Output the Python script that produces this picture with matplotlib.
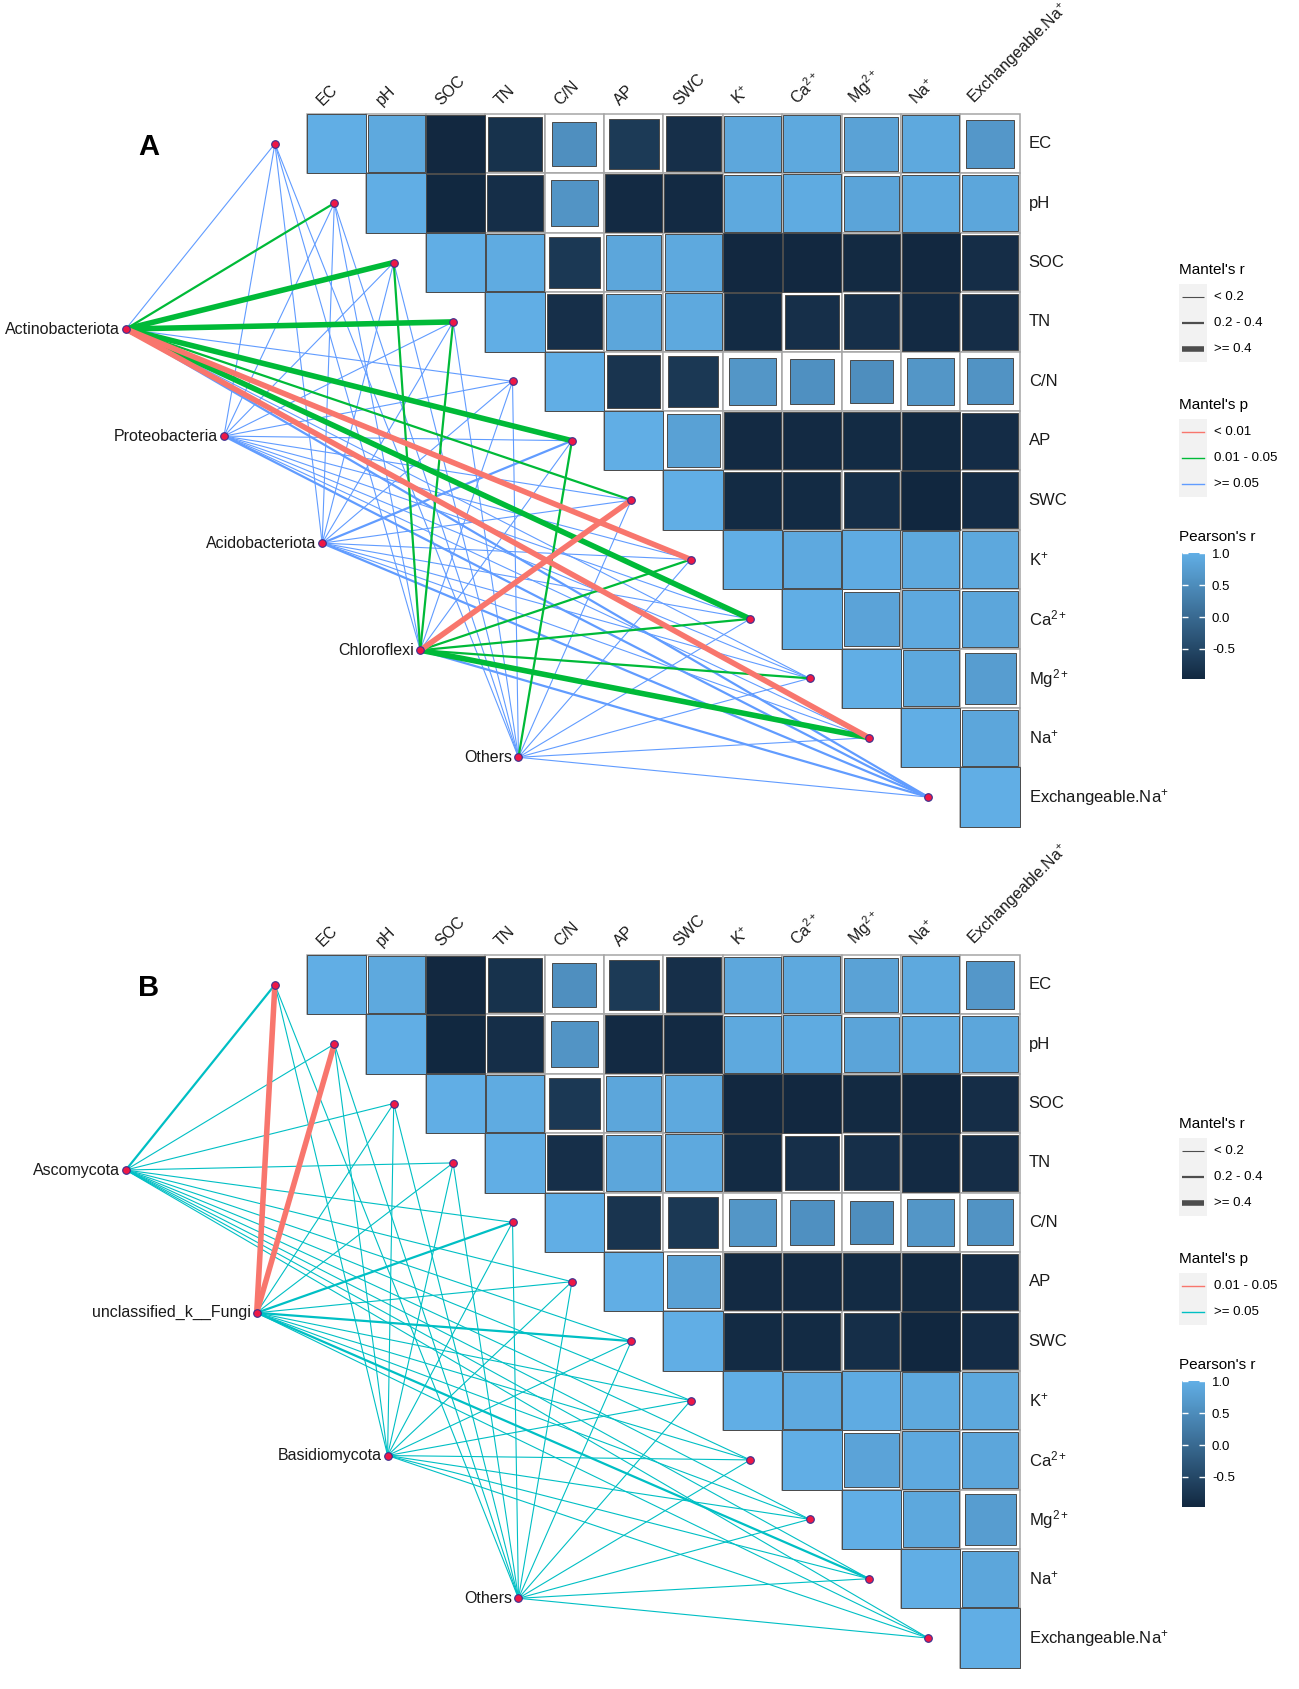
import numpy as np
import matplotlib
matplotlib.use('Agg')
import matplotlib.pyplot as plt
from matplotlib.patches import Rectangle
from matplotlib.colors import LinearSegmentedColormap, Normalize
from matplotlib.cm import ScalarMappable

plt.rcParams['font.family'] = ['Liberation Sans', 'DejaVu Sans']
plt.rcParams['mathtext.fontset'] = 'custom'
plt.rcParams['mathtext.rm'] = 'Liberation Sans'
plt.rcParams['mathtext.it'] = 'Liberation Sans:italic'
plt.rcParams['mathtext.bf'] = 'Liberation Sans:bold'

# environmental variables (heatmap rows / columns)
env_labels = ['EC', 'pH', 'SOC', 'TN', 'C/N', 'AP', 'SWC', 'K$^{+}$', 'Ca$^{2+}$',
              'Mg$^{2+}$', 'Na$^{+}$', 'Exchangeable.Na$^{+}$']

# Pearson's r, upper triangle (row i holds columns i..11)
corr_rows = [
    [1.00, 0.92, -0.96, -0.82, 0.55, -0.70, -0.86, 0.89, 0.92, 0.82, 0.92, 0.66],
    [1.00, -0.97, -0.87, 0.62, -0.93, -0.93, 0.92, 0.95, 0.86, 0.92, 0.87],
    [1.00, 0.95, -0.72, 0.87, 0.92, -0.96, -0.96, -0.94, -0.96, -0.88],
    [1.00, -0.86, 0.87, 0.92, -0.92, -0.85, -0.86, -0.93, -0.88],
    [1.00, -0.78, -0.73, 0.64, 0.56, 0.53, 0.64, 0.60],
    [1.00, 0.80, -0.93, -0.93, -0.92, -0.95, -0.90],
    [1.00, -0.92, -0.92, -0.87, -0.98, -0.90],
    [1.00, 0.93, 0.96, 0.92, 0.90],
    [1.00, 0.84, 0.93, 0.88],
    [1.00, 0.90, 0.74],
    [1.00, 0.88],
    [1.00],
]

# Mantel test, panel A (bacteria)
# p class: 0 = < 0.01, 1 = 0.01 - 0.05, 2 = >= 0.05
# r class: 0 = < 0.2, 1 = 0.2 - 0.4, 2 = >= 0.4
species_A = ['Actinobacteriota', 'Proteobacteria', 'Acidobacteriota', 'Chloroflexi', 'Others']
mantel_p_A = [
    [2, 1, 1, 1, 2, 1, 1, 0, 1, 2, 0, 2],
    [2, 2, 2, 2, 2, 2, 2, 2, 2, 2, 2, 2],
    [2, 2, 2, 2, 2, 2, 2, 2, 2, 2, 2, 2],
    [2, 2, 1, 1, 2, 2, 0, 1, 1, 1, 1, 2],
    [2, 2, 2, 2, 2, 1, 2, 2, 2, 2, 2, 2],
]
mantel_r_A = [
    [0, 1, 2, 2, 0, 2, 1, 2, 2, 0, 2, 1],
    [0, 0, 0, 0, 0, 0, 0, 0, 0, 0, 0, 1],
    [0, 0, 0, 0, 0, 1, 0, 0, 0, 0, 0, 1],
    [0, 0, 1, 1, 0, 0, 2, 1, 1, 1, 2, 1],
    [0, 0, 0, 0, 0, 1, 0, 0, 0, 0, 0, 0],
]
p_labels_A = ['< 0.01', '0.01 - 0.05', '>= 0.05']
p_colors_A = ['#F8766D', '#00BA38', '#619CFF']

# Mantel test, panel B (fungi); p class: 0 = 0.01 - 0.05, 1 = >= 0.05
species_B = ['Ascomycota', 'unclassified_k__Fungi', 'Basidiomycota', 'Others']
mantel_p_B = [
    [1, 1, 1, 1, 1, 1, 1, 1, 1, 1, 1, 1],
    [0, 0, 1, 1, 1, 1, 1, 1, 1, 1, 1, 1],
    [1, 1, 1, 1, 1, 1, 1, 1, 1, 1, 1, 1],
    [1, 1, 1, 1, 1, 1, 1, 1, 1, 1, 1, 1],
]
mantel_r_B = [
    [1, 0, 0, 0, 0, 0, 0, 0, 0, 0, 0, 0],
    [2, 2, 0, 0, 1, 0, 1, 0, 0, 0, 1, 0],
    [0, 0, 0, 0, 0, 0, 0, 0, 0, 0, 0, 0],
    [0, 0, 0, 0, 0, 0, 0, 0, 0, 0, 0, 0],
]
p_labels_B = ['0.01 - 0.05', '>= 0.05']
p_colors_B = ['#F8766D', '#00BFC4']

r_labels = ['< 0.2', '0.2 - 0.4', '>= 0.4']
r_widths = [0.8, 1.6, 4.0]

n = len(env_labels)
corr = np.full((n, n), np.nan)
for i, row in enumerate(corr_rows):
    corr[i, i:] = row

cmap = LinearSegmentedColormap.from_list('gg', ['#11273F', '#61AEE5'])
norm = Normalize(np.nanmin(corr), 1.0)

W, H = 1299, 1689
CELL = 59.4
fig = plt.figure(figsize=(W / 100, H / 100), dpi=100)


def panel_axes(top_px, bottom_px, origin_x, origin_y):
    ax = fig.add_axes([0, 1 - bottom_px / H, 1, (bottom_px - top_px) / H])
    ax.set_xlim(-origin_x / CELL, (W - origin_x) / CELL)
    ax.set_ylim((bottom_px - origin_y) / CELL, (top_px - origin_y) / CELL)
    ax.axis('off')
    return ax


def draw_panel(ax, letter, species, p_idx, r_idx, p_colors):
    # heatmap
    for i in range(n):
        for j in range(i, n):
            r = corr[i, j]
            ax.add_patch(Rectangle((j, i), 1, 1, fc='white', ec='#A6A6A6', lw=1.1, zorder=1))
            s = np.sqrt(abs(r))
            ax.add_patch(Rectangle((j + 0.5 - s / 2, i + 0.5 - s / 2), s, s,
                                   fc=cmap(norm(r)), ec='#4A4A4A', lw=0.7, zorder=2))
    for j, lab in enumerate(env_labels):
        ax.text(j + 0.3, -0.1, lab, rotation=45, rotation_mode='anchor',
                ha='left', va='bottom', fontsize=11.5, color='#1a1a1a')
        ax.text(n + 0.15, j + 0.5, lab, ha='left', va='center', fontsize=12, color='#1a1a1a')

    # network
    ex = np.arange(n) - 0.54
    ey = np.arange(n) + 0.5
    ns = len(species)
    sx = np.linspace(-3.05, 3.56, ns)
    sy = np.linspace(3.62, 10.83, ns)
    edges = []
    for k in range(ns):
        for j in range(n):
            edges.append((-p_idx[k][j], r_idx[k][j], k, j))
    edges.sort()
    for negp, rc, k, j in edges:
        ax.plot([sx[k], ex[j]], [sy[k], ey[j]], color=p_colors[-negp],
                lw=r_widths[rc], solid_capstyle='butt', zorder=3)
    ax.scatter(ex, ey, s=30, c='#EE1846', edgecolors='#3B2F8F', linewidths=0.8, zorder=5)
    ax.scatter(sx, sy, s=30, c='#EE1846', edgecolors='#3B2F8F', linewidths=0.8, zorder=5)
    for k, name in enumerate(species):
        ax.text(sx[k] - 0.1, sy[k], name, ha='right', va='center', fontsize=11.5, color='#1a1a1a')
    ax.text(-2.66, 0.56, letter, ha='center', va='center', fontsize=21, fontweight='bold')


def draw_legend(lax, heat_top, p_labels, p_colors):
    x0, kw, tx = 1179, 28, 1214
    npl = len(p_labels)
    span = 416 - 26 * (3 - npl)
    y = heat_top + 6 * CELL - span / 2 + 8
    # Mantel's r
    lax.text(x0, y, "Mantel's r", ha='left', va='center', fontsize=11)
    lax.add_patch(Rectangle((x0, y + 14), kw, 26 * 3, fc='#F2F2F2', ec='none'))
    for k, lab in enumerate(r_labels):
        yy = y + 27 + 26 * k
        lax.plot([x0 + 3, x0 + kw - 3], [yy, yy], color='#4D4D4D', lw=r_widths[k],
                 solid_capstyle='butt')
        lax.text(tx, yy, lab, ha='left', va='center', fontsize=9.5)
    # Mantel's p
    y = y + 27 + 26 * 2 + 56
    lax.text(x0, y, "Mantel's p", ha='left', va='center', fontsize=11)
    lax.add_patch(Rectangle((x0, y + 14), kw, 26 * npl, fc='#F2F2F2', ec='none'))
    for k, lab in enumerate(p_labels):
        yy = y + 27 + 26 * k
        lax.plot([x0 + 3, x0 + kw - 3], [yy, yy], color=p_colors[k], lw=1.0)
        lax.text(tx, yy, lab, ha='left', va='center', fontsize=9.5)
    # Pearson's r
    y = y + 27 + 26 * (npl - 1) + 53
    lax.text(x0, y, "Pearson's r", ha='left', va='center', fontsize=11)
    cb_top = y + 16
    cax = fig.add_axes([1182 / W, 1 - (cb_top + 126) / H, 23 / W, 126 / H])
    cb = fig.colorbar(ScalarMappable(norm=norm, cmap=cmap), cax=cax)
    cb.outline.set_visible(False)
    cb.set_ticks([-0.5, 0.0, 0.5, 1.0])
    cb.set_ticklabels(['-0.5', '0.0', '0.5', '1.0'])
    cax.tick_params(left=True, right=True, labelleft=False, labelright=True,
                    direction='in', color='white', length=4, width=1, labelsize=9.5, pad=5)


axA = panel_axes(0, 845, 307, 114)
draw_panel(axA, 'A', species_A, mantel_p_A, mantel_r_A, p_colors_A)
axB = panel_axes(845, H, 307, 955)
draw_panel(axB, 'B', species_B, mantel_p_B, mantel_r_B, p_colors_B)

lax = fig.add_axes([0, 0, 1, 1])
lax.set_xlim(0, W)
lax.set_ylim(H, 0)
lax.axis('off')
draw_legend(lax, 114, p_labels_A, p_colors_A)
draw_legend(lax, 955, p_labels_B, p_colors_B)

fig.savefig('out.png', dpi=100)
